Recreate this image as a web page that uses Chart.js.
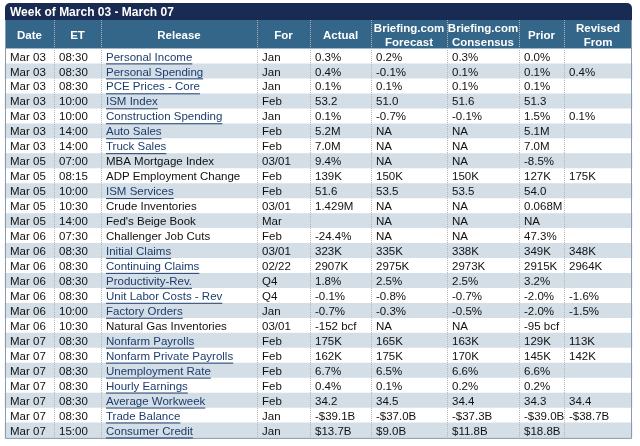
<!DOCTYPE html>
<html><head><meta charset="utf-8">
<script src="https://cdn.jsdelivr.net/npm/chart.js@4"></script>
<style>body{margin:0;background:#fff}#wrap{width:640px;height:446px}</style>
</head><body><div id="wrap"><canvas id="c" width="640" height="446"></canvas></div>
<script>
// table data
const title = 'Week of March 03 - March 07';
const headers = ['Date', 'ET', 'Release', 'For', 'Actual', 'Briefing.com\nForecast', 'Briefing.com\nConsensus', 'Prior', 'Revised\nFrom'];
const dates = ['Mar 03','Mar 03','Mar 03','Mar 03','Mar 03','Mar 03','Mar 03','Mar 05','Mar 05','Mar 05','Mar 05','Mar 05','Mar 06','Mar 06','Mar 06','Mar 06','Mar 06','Mar 06','Mar 06','Mar 07','Mar 07','Mar 07','Mar 07','Mar 07','Mar 07','Mar 07'];
const times = ['08:30','08:30','08:30','10:00','10:00','14:00','14:00','07:00','08:15','10:00','10:30','14:00','07:30','08:30','08:30','08:30','08:30','10:00','10:30','08:30','08:30','08:30','08:30','08:30','08:30','15:00'];
const releases = ['Personal Income','Personal Spending','PCE Prices - Core','ISM Index','Construction Spending','Auto Sales','Truck Sales','MBA Mortgage Index','ADP Employment Change','ISM Services','Crude Inventories',"Fed's Beige Book",'Challenger Job Cuts','Initial Claims','Continuing Claims','Productivity-Rev.','Unit Labor Costs - Rev','Factory Orders','Natural Gas Inventories','Nonfarm Payrolls','Nonfarm Private Payrolls','Unemployment Rate','Hourly Earnings','Average Workweek','Trade Balance','Consumer Credit'];
const linked = [1,1,1,1,1,1,1,0,0,1,0,0,0,1,1,1,1,1,0,1,1,1,1,1,1,1];
const periods = ['Jan','Jan','Jan','Feb','Jan','Feb','Feb','03/01','Feb','Feb','03/01','Mar','Feb','03/01','02/22','Q4','Q4','Jan','03/01','Feb','Feb','Feb','Feb','Feb','Jan','Jan'];
const actuals = ['0.3%','0.4%','0.1%','53.2','0.1%','5.2M','7.0M','9.4%','139K','51.6','1.429M','','-24.4%','323K','2907K','1.8%','-0.1%','-0.7%','-152 bcf','175K','162K','6.7%','0.4%','34.2','-$39.1B','$13.7B'];
const forecasts = ['0.2%','-0.1%','0.1%','51.0','-0.7%','NA','NA','NA','150K','53.5','NA','NA','NA','335K','2975K','2.5%','-0.8%','-0.3%','NA','165K','175K','6.5%','0.1%','34.5','-$37.0B','$9.0B'];
const consensus = ['0.3%','0.1%','0.1%','51.6','-0.1%','NA','NA','NA','150K','53.5','NA','NA','NA','338K','2973K','2.5%','-0.7%','-0.5%','NA','163K','170K','6.6%','0.2%','34.4','-$37.3B','$11.8B'];
const priors = ['0.0%','0.1%','0.1%','51.3','1.5%','5.1M','7.0M','-8.5%','127K','54.0','0.068M','NA','47.3%','349K','2915K','3.2%','-2.0%','-2.0%','-95 bcf','129K','145K','6.6%','0.2%','34.3','-$39.0B','$18.8B'];
const revised = ['','0.4%','','','0.1%','','','','175K','','','','','348K','2964K','','-1.6%','-1.5%','','113K','142K','','','34.4','-$38.7B',''];

const colEdges = [5, 54, 101, 257, 310, 371, 447, 519, 564, 632];
const columns = [dates, times, releases, periods, actuals, forecasts, consensus, priors, revised];
const n = dates.length;

const stripes = dates.map(() => [colEdges[0], colEdges[colEdges.length - 1]]);
const stripeColors = dates.map((d, i) => i % 2 ? '#d3dee6' : '#ffffff');

const FONT = '"Liberation Sans", Arial, sans-serif';

const tablePlugin = {
  id: 'table',
  beforeDatasetsDraw(chart) {
    const ctx = chart.ctx, xs = chart.scales.x, ys = chart.scales.y;
    const X = v => xs.getPixelForValue(v), Y = v => ys.getPixelForValue(v);
    const L = X(colEdges[0]), R = X(colEdges[9]);
    ctx.save();
    // title bar
    ctx.fillStyle = '#192b52';
    ctx.beginPath();
    ctx.roundRect(L, Y(-3.07), R - L, Y(-1.9) - Y(-3.07), [5, 5, 0, 0]);
    ctx.fill();
    ctx.fillStyle = '#336689';
    ctx.fillRect(L, Y(-1.93), R - L, Y(0) - Y(-1.93));
    ctx.restore();
  },
  afterDatasetsDraw(chart) {
    const ctx = chart.ctx, xs = chart.scales.x, ys = chart.scales.y;
    const X = v => xs.getPixelForValue(v), Y = v => ys.getPixelForValue(v);
    const L = X(colEdges[0]), R = X(colEdges[9]);
    ctx.save();
    // dotted column separators
    ctx.strokeStyle = '#b5b5b5';
    ctx.setLineDash([1, 1]);
    ctx.lineWidth = 1;
    for (let k = 1; k < colEdges.length - 1; k++) {
      const x = Math.round(X(colEdges[k])) + 0.5;
      ctx.beginPath(); ctx.moveTo(x, Y(-1.93)); ctx.lineTo(x, Y(n)); ctx.stroke();
    }
    ctx.setLineDash([]);
    // outer border
    ctx.strokeStyle = '#8a9bb0';
    ctx.beginPath();
    ctx.moveTo(L + 0.5, Y(-1.93)); ctx.lineTo(L + 0.5, Y(n) + 0.5);
    ctx.lineTo(R - 0.5, Y(n) + 0.5); ctx.lineTo(R - 0.5, Y(-1.93));
    ctx.stroke();
    // title
    ctx.fillStyle = '#ffffff';
    ctx.font = 'bold 12px ' + FONT;
    ctx.textBaseline = 'middle';
    ctx.fillText(title, L + 5, Y(-2.5) + 1);
    // headers
    ctx.font = 'bold 11.5px ' + FONT;
    ctx.textAlign = 'center';
    headers.forEach((h, k) => {
      const cx = (X(colEdges[k]) + X(colEdges[k + 1])) / 2;
      const lines = h.split('\n');
      const cy = Y(-0.965);
      lines.forEach((t, j) => ctx.fillText(t, cx, cy + (j - (lines.length - 1) / 2) * 14 + 1));
    });
    // cells
    ctx.textAlign = 'left';
    ctx.font = '11.5px ' + FONT;
    columns.forEach((col, k) => {
      const x = X(colEdges[k]) + 5;
      col.forEach((t, i) => {
        const y = Y(i + 0.5) + 1;
        const link = k === 2 && linked[i];
        ctx.fillStyle = link ? '#1d3c6e' : '#111111';
        ctx.fillText(t, x, y);
        if (link) {
          const w = ctx.measureText(t).width;
          ctx.strokeStyle = '#1d3c6e';
          ctx.beginPath(); ctx.moveTo(x, y + 6.5); ctx.lineTo(x + w, y + 6.5); ctx.stroke();
        }
      });
    });
    ctx.restore();
  }
};

new Chart(document.getElementById('c'), {
  type: 'bar',
  data: {
    labels: dates.map((d, i) => i + 0.5),
    datasets: [{
      data: stripes.map((s, i) => ({ x: s, y: i + 0.5 })),
      backgroundColor: stripeColors,
      barThickness: 15, borderWidth: 0
    }]
  },
  options: {
    indexAxis: 'y',
    responsive: false,
    animation: false,
    layout: { padding: 0 },
    plugins: { legend: { display: false }, tooltip: { enabled: false } },
    scales: {
      x: { type: 'linear', min: 0, max: 640, display: false },
      y: { type: 'linear', min: -3.27, max: 26.54, reverse: true, offset: false, display: false }
    }
  },
  plugins: [tablePlugin]
});
</script></body></html>
